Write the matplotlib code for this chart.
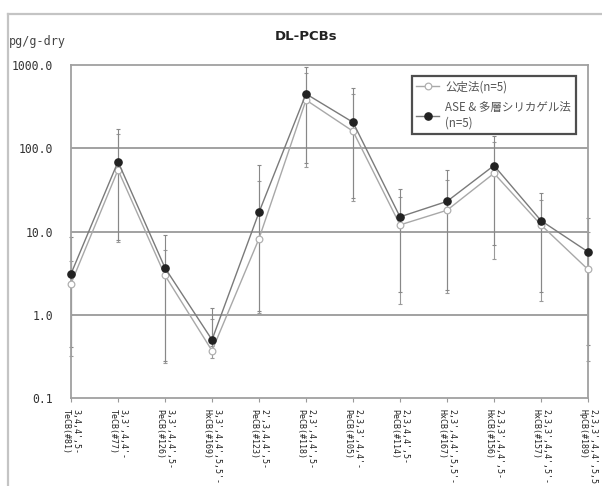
import matplotlib
matplotlib.use("Agg")
import matplotlib.pyplot as plt
from matplotlib.lines import Line2D
import numpy as np

plt.rcParams['font.family'] = ['Noto Sans CJK JP', 'DejaVu Sans']

categories = [
    "3,4,4',5-\nTeCB(#81)",
    "3,3',4,4'-\nTeCB(#77)",
    "3,3',4,4',5-\nPeCB(#126)",
    "3,3',4,4',5,5'-\nHxCB(#169)",
    "2',3,4,4',5-\nPeCB(#123)",
    "2,3',4,4',5-\nPeCB(#118)",
    "2,3,3',4,4'-\nPeCB(#105)",
    "2,3,4,4',5-\nPeCB(#114)",
    "2,3',4,4',5,5'-\nHxCB(#167)",
    "2,3,3',4,4',5-\nHxCB(#156)",
    "2,3,3',4,4',5'-\nHxCB(#157)",
    "2,3,3',4,4',5,5'-\nHpCB(#189)",
]

# 公定法 (n=5)
koutei = [2.36, 55, 2.97, 0.37, 8.2, 380, 160, 12, 18, 50, 12, 3.5]
koutei_hi = [4.4, 150, 6.0, 0.9, 40, 800, 450, 26, 41, 120, 24, 9.9]
koutei_lo = [0.32, 7.5, 0.26, 0.30, 1.05, 60, 23, 1.36, 1.8, 4.7, 1.45, 0.28]

# ASE & 多層シリカゲル法 (n=5)
ase = [3.1, 69, 3.65, 0.50, 17, 450, 205, 15, 23, 62, 13.5, 5.7]
ase_hi = [8.5, 170, 9.0, 1.2, 63, 950, 530, 32, 55, 142, 29, 14.4]
ase_lo = [0.41, 8.0, 0.28, 0.42, 1.1, 66, 25, 1.9, 1.96, 6.8, 1.87, 0.43]

legend_labels = ["公定法(n=5)", "ASE & 多層シリカゲル法\n(n=5)"]
ytick_vals = [0.1, 1.0, 10.0, 100.0, 1000.0]

MONO = ['DejaVu Sans Mono']

fig = plt.figure(figsize=(6.02, 4.86), dpi=100)
W, H = 602, 486

# outer chart frame
frame_col = '#c4c4c4'
fig.add_artist(Line2D([8 / W, 1.0], [1 - 14 / H, 1 - 14 / H], color=frame_col, lw=1.6))
fig.add_artist(Line2D([8 / W, 8 / W], [0, 1 - 14 / H], color=frame_col, lw=1.6))

ax = fig.add_axes([71 / W, 1 - 398 / H, (588 - 71) / W, (398 - 65) / H])
x = np.arange(len(categories))

ax.set_yscale('log')
ax.set_ylim(0.1, 1000)
ax.set_xlim(0, len(categories) - 1)

for v in [1, 10, 100]:
    ax.axhline(v, color='#9a9a9a', lw=1.3, zorder=1)

# error bars
ax.errorbar(x, koutei, yerr=[np.array(koutei) - np.array(koutei_lo), np.array(koutei_hi) - np.array(koutei)],
            fmt='none', ecolor='#9a9a9a', elinewidth=0.8, capsize=1.5, capthick=0.8, zorder=2, clip_on=False)
ax.errorbar(x, ase, yerr=[np.array(ase) - np.array(ase_lo), np.array(ase_hi) - np.array(ase)],
            fmt='none', ecolor='#888888', elinewidth=0.8, capsize=1.5, capthick=0.8, zorder=2, clip_on=False)

ax.plot(x, koutei, color='#a8a8a8', lw=1.0, marker='o', markersize=4.8,
        markerfacecolor='white', markeredgecolor='#b0b0b0', markeredgewidth=0.9,
        label=legend_labels[0], zorder=3, clip_on=False)
ax.plot(x, ase, color='#7a7a7a', lw=1.0, marker='o', markersize=5.2,
        markerfacecolor='#222222', markeredgecolor='#222222',
        label=legend_labels[1], zorder=4, clip_on=False)

ax.set_yticks(ytick_vals)
ax.set_yticklabels([f"{v:.1f}" for v in ytick_vals], fontsize=8.3, color='#333333', family=MONO)
ax.yaxis.set_minor_locator(matplotlib.ticker.NullLocator())
ax.tick_params(axis='y', length=0, pad=13)

ax.set_xticks(x)
ax.set_xticklabels(categories, rotation=270, fontsize=6, color='#222222', family=MONO,
                   ha='center', va='top', multialignment='left', linespacing=1.2)
ax.tick_params(axis='x', length=3, width=0.8, color='#999999', pad=5)

for s in ax.spines.values():
    s.set_color('#a0a0a0')
    s.set_linewidth(1.3)

leg = ax.legend(loc='upper left', bbox_to_anchor=(0.648, 0.985), fontsize=8.3,
                frameon=True, fancybox=False, edgecolor='#222222',
                handlelength=2.0, borderpad=0.4, labelspacing=0.7, handletextpad=0.5)
leg.get_frame().set_linewidth(1.6)
for t in leg.get_texts():
    t.set_color('#555555')

fig.text(306 / W, 1 - 36 / H, "DL-PCBs", ha='center', va='center', fontsize=9.5,
         fontweight='bold', color='#222222', family=['DejaVu Sans'])
fig.text(9 / W, 1 - 41 / H, "pg/g-dry", ha='left', va='center', fontsize=8.5, color='#444444',
         family=MONO)

fig.savefig("out.png", dpi=100)
